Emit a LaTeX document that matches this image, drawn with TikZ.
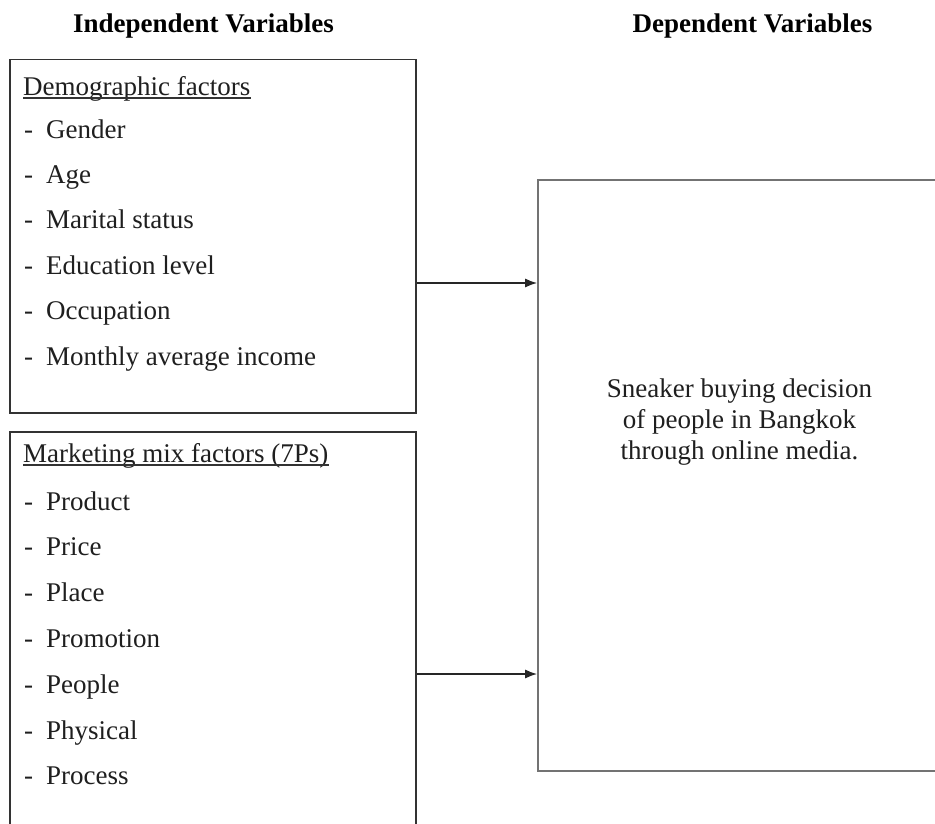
\documentclass[tikz,border=0pt]{standalone}
\usepackage{fontspec}
\setmainfont{Liberation Serif}
\usetikzlibrary{arrows.meta}
\begin{document}
\begin{tikzpicture}[x=1pt,y=-1pt,
  txt/.style={anchor=base west,inner sep=0pt,font=\fontsize{27}{27}\selectfont,text=black!88},
  mid/.style={anchor=base,inner sep=0pt,font=\fontsize{27}{27}\selectfont,text=black!88},
  ttl/.style={anchor=base,inner sep=0pt,font=\fontsize{27}{27}\selectfont\bfseries},
  ivbox/.style={draw=black!80,line width=1.6pt,inner sep=0pt},
  dvbox/.style={draw=black!55,line width=1.6pt,inner sep=0pt},
  uline/.style={line width=1.5pt,draw=black!80},
  arr/.style={line width=1.6pt,draw=black!85,-{Latex[length=12pt,width=9pt]}}]
\newcommand{\itm}[1]{\makebox[22pt][l]{-}#1}
\clip (0,0) rectangle (935,823);
\fill[white] (0,0) rectangle (935,823);

% column titles
\node[ttl] (tiv) at (203.5,32) {Independent Variables};
\node[ttl] (tdv) at (752.5,32) {Dependent Variables};

% boxes (the lower and right ones run past the page edge)
\node[ivbox,minimum width=406pt,minimum height=353.5pt] (demo) at (213,236.25) {};
\node[ivbox,minimum width=406pt,minimum height=448pt] (mix) at (213,656) {};
\node[dvbox,minimum width=442pt,minimum height=591pt] (dv) at (759,475.5) {};

% demographic factors
\node[txt] (h1) at (23,95) {Demographic factors};
\draw[uline] ([yshift=-3pt]h1.base west) -- ([yshift=-3pt]h1.base east);
\foreach \t [count=\i from 0] in {Gender,Age,Marital status,Education level,Occupation,Monthly average income}
  \node[txt] (d\i) at (24,138+45.4*\i) {\itm{\t}};

% marketing mix factors
\node[txt] (h2) at (23,462) {Marketing mix factors (7Ps)};
\draw[uline] ([yshift=-3pt]h2.base west) -- ([yshift=-3pt]h2.base east);
\foreach \t [count=\i from 0] in {Product,Price,Place,Promotion,People,Physical,Process}
  \node[txt] (m\i) at (24,510+45.83*\i) {\itm{\t}};

% dependent variable
\node[mid] (dv1) at (739.5,397) {Sneaker buying decision};
\node[mid] (dv2) at (739.5,428) {of people in Bangkok};
\node[mid] (dv3) at (739.5,459) {through online media.};

% connectors
\coordinate (a1) at (0,283);
\coordinate (a2) at (0,674);
\draw[arr] (demo.east |- a1) -- (dv.west |- a1);
\draw[arr] (mix.east |- a2) -- (dv.west |- a2);
\end{tikzpicture}
\end{document}
